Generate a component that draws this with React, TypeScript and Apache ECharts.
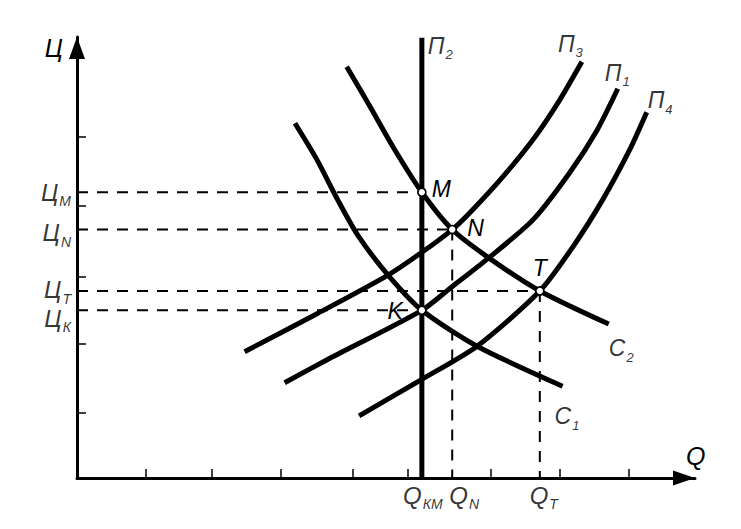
import React, { useEffect, useRef } from 'react';
import * as echarts from 'echarts';

// Demand curves (С) and supply curves (П), in axis units
const C1_CURVE = [[3.16, 5.14], [3.48, 4.61], [3.78, 4.03], [4.07, 3.52], [4.51, 2.94], [5.0, 2.43], [5.8, 1.91], [7.04, 1.33]];
const C2_CURVE = [[3.91, 5.96], [4.25, 5.38], [4.58, 4.8], [5.0, 4.14], [5.44, 3.6], [5.97, 3.19], [6.71, 2.71], [7.71, 2.23]];
const P1_CURVE = [[3.01, 1.38], [3.62, 1.71], [5.0, 2.43], [5.41, 2.75], [5.97, 3.19], [6.61, 3.74], [7.14, 4.42], [7.54, 5.04], [7.84, 5.64]];
const P2_CURVE = [[5.0, 0], [5.0, 6.38]];
const P3_CURVE = [[2.43, 1.83], [3.48, 2.38], [4.51, 2.94], [5.0, 3.27], [5.44, 3.6], [5.72, 3.87], [6.17, 4.36], [6.61, 4.9], [7.0, 5.48], [7.32, 6.03]];
const P4_CURVE = [[4.09, 0.9], [5.0, 1.43], [5.8, 1.91], [6.71, 2.71], [7.19, 3.35], [7.62, 4.03], [8.01, 4.75], [8.26, 5.3]];

// Equilibrium points
const POINT_NAMES = ['M', 'N', 'K', 'T'];
const POINTS = [[5.0, 4.14], [5.44, 3.6], [5.0, 2.43], [6.71, 2.71]];

// Price levels (Ц) and quantity levels (Q)
const PRICE_LEVELS = [4.14, 3.6, 2.71, 2.43];
const PRICE_SUBS = ['М', 'N', 'Т', 'К'];
const QTY_LEVELS = [5.0, 5.44, 6.71];
const QTY_SUBS = ['КМ', 'N', 'Т'];

// Axis tick marks
const X_TICKS = [1, 1.96, 2.96, 4, 4.8, 6, 7, 8];
const Y_TICKS = [0.95, 1.95, 2.92, 3.95, 4.95];

const X_MAX = 8.96;
const Y_MAX = 6.39;

const FONT = '"Liberation Sans", Arial, sans-serif';

const makeRich = (main: number, sub: number, drop: number): any => ({
  m: { fontSize: main, lineHeight: main + 2, verticalAlign: 'top', fontStyle: 'italic', fontFamily: FONT, color: '#000' },
  s: { fontSize: sub, lineHeight: sub, verticalAlign: 'top', padding: [drop, 0, 0, 1], fontStyle: 'italic', fontFamily: FONT, color: '#000' },
});
const AXIS_RICH = makeRich(24, 14, 14);
const CURVE_RICH = makeRich(23, 13, 14);

const CURVES = [
  { name: 'C1', main: 'C', sub: '1', data: C1_CURVE },
  { name: 'C2', main: 'C', sub: '2', data: C2_CURVE },
  { name: 'P1', main: 'П', sub: '1', data: P1_CURVE },
  { name: 'P2', main: 'П', sub: '2', data: P2_CURVE },
  { name: 'P3', main: 'П', sub: '3', data: P3_CURVE },
  { name: 'P4', main: 'П', sub: '4', data: P4_CURVE },
];

const CURVE_LABEL_OFFSET: Record<string, number[]> = {
  C1: [-8, 31],
  C2: [0, 25],
  P1: [-13, -15],
  P2: [6, 9],
  P3: [-24, -17],
  P4: [1, -11],
};

const POINT_LABEL_STYLE: Record<string, any> = {
  M: { align: 'left', offset: [10, -3] },
  N: { align: 'left', offset: [15, -2] },
  K: { align: 'right', offset: [-19, 1] },
  T: { align: 'center', offset: [0, -23] },
};

const PRICE_LABEL_OFFSET: Record<string, number[]> = { 'М': [0, 1], N: [0, 4], 'Т': [0, 0], 'К': [0, 9] };
const QTY_LABEL_OFFSET: Record<string, number[]> = { 'КМ': [1, 0], N: [12, 0], 'Т': [4, 0] };

const DASH = { color: '#000', width: 2, type: [11, 9] as any };

function buildOption() {
  const series: any[] = [];

  // dashed guide lines
  POINTS.forEach((p, i) => {
    series.push({
      type: 'line',
      data: [[0, p[1]], [p[0], p[1]]],
      showSymbol: false,
      symbol: 'none',
      lineStyle: DASH,
      silent: true,
      z: 2,
    });
    if (POINT_NAMES[i] === 'N' || POINT_NAMES[i] === 'T') {
      series.push({
        type: 'line',
        data: [[p[0], p[1]], [p[0], 0]],
        showSymbol: false,
        symbol: 'none',
        lineStyle: DASH,
        silent: true,
        z: 2,
      });
    }
  });

  // curves
  CURVES.forEach((c) => {
    series.push({
      type: 'line',
      data: c.data,
      smooth: c.data.length > 2 ? 0.25 : false,
      showSymbol: false,
      symbol: 'none',
      lineStyle: { color: '#000', width: 5 },
      silent: true,
      z: 3,
    });
  });

  // curve names at curve ends
  series.push({
    type: 'scatter',
    symbolSize: 1,
    itemStyle: { color: 'transparent' },
    silent: true,
    clip: false,
    z: 5,
    data: CURVES.map((c) => ({
      value: c.data[c.data.length - 1],
      label: {
        show: true,
        position: 'inside',
        align: 'left',
        verticalAlign: 'middle',
        offset: CURVE_LABEL_OFFSET[c.name],
        formatter: `{m|${c.main}}{s|${c.sub}}`,
        rich: CURVE_RICH,
      },
    })),
  });

  // price level labels on the Ц axis
  series.push({
    type: 'scatter',
    symbolSize: 1,
    itemStyle: { color: 'transparent' },
    silent: true,
    clip: false,
    z: 5,
    data: PRICE_LEVELS.map((p, i) => ({
      value: [0, p],
      label: {
        show: true,
        position: 'inside',
        align: 'right',
        verticalAlign: 'middle',
        offset: [-6 + PRICE_LABEL_OFFSET[PRICE_SUBS[i]][0], PRICE_LABEL_OFFSET[PRICE_SUBS[i]][1]],
        formatter: `{m|Ц}{s|${PRICE_SUBS[i]}}`,
        rich: AXIS_RICH,
      },
    })),
  });

  // quantity level labels on the Q axis
  series.push({
    type: 'scatter',
    symbolSize: 1,
    itemStyle: { color: 'transparent' },
    silent: true,
    clip: false,
    z: 5,
    data: QTY_LEVELS.map((q, i) => ({
      value: [q, 0],
      label: {
        show: true,
        position: 'inside',
        align: 'center',
        verticalAlign: 'top',
        offset: [QTY_LABEL_OFFSET[QTY_SUBS[i]][0], 5 + QTY_LABEL_OFFSET[QTY_SUBS[i]][1]],
        formatter: `{m|Q}{s|${QTY_SUBS[i]}}`,
        rich: AXIS_RICH,
      },
    })),
  });

  // equilibrium points
  series.push({
    type: 'scatter',
    symbol: 'circle',
    symbolSize: 8,
    itemStyle: { color: '#fff', borderColor: '#000', borderWidth: 1.6, opacity: 1 },
    silent: true,
    z: 10,
    data: POINTS.map((p, i) => ({
      value: p,
      label: {
        show: true,
        position: 'inside',
        verticalAlign: 'middle',
        ...POINT_LABEL_STYLE[POINT_NAMES[i]],
        formatter: POINT_NAMES[i],
        fontSize: 23,
        fontStyle: 'italic',
        fontFamily: FONT,
        color: '#000',
      },
    })),
  });

  return {
    animation: false,
    backgroundColor: '#fff',
    textStyle: { fontFamily: FONT },
    grid: { left: 77, right: 46, top: 37, bottom: 51, containLabel: false, outerBoundsMode: 'none' },
    xAxis: {
      type: 'value',
      min: 0,
      max: X_MAX,
      name: 'Q',
      nameLocation: 'end',
      nameGap: -9,
      nameTextStyle: { fontSize: 25, fontStyle: 'italic', fontFamily: FONT, color: '#000', verticalAlign: 'bottom', padding: [0, 0, 10, 0] },
      axisLine: {
        show: true,
        onZero: false,
        symbol: ['none', 'triangle'],
        symbolSize: [15, 22],
        symbolOffset: [0, -11],
        lineStyle: { color: '#000', width: 3 },
      },
      axisTick: { show: true, inside: true, length: 9, customValues: X_TICKS, lineStyle: { color: '#000', width: 1.5 } },
      axisLabel: { show: false },
      splitLine: { show: false },
    },
    yAxis: {
      type: 'value',
      min: 0,
      max: Y_MAX,
      name: 'Ц',
      nameLocation: 'end',
      nameGap: -11,
      nameTextStyle: { fontSize: 25, fontStyle: 'italic', fontFamily: FONT, color: '#000', align: 'right', verticalAlign: 'middle', padding: [0, 14, 0, 0] },
      axisLine: {
        show: true,
        onZero: false,
        symbol: ['none', 'triangle'],
        symbolSize: [16, 22],
        symbolOffset: [0, -11],
        lineStyle: { color: '#000', width: 3 },
      },
      axisTick: { show: true, inside: true, length: 9, customValues: Y_TICKS, lineStyle: { color: '#000', width: 1.5 } },
      axisLabel: { show: false },
      splitLine: { show: false },
    },
    series,
  };
}

export default function App() {
  const ref = useRef<HTMLDivElement>(null);
  useEffect(() => {
    if (!ref.current) return;
    const chart = echarts.init(ref.current, null, { renderer: 'svg' });
    chart.setOption(buildOption() as any);
    return () => chart.dispose();
  }, []);
  return (
    <div
      ref={ref}
      style={{ position: 'fixed', left: 0, top: 0, width: 741, height: 529, background: '#fff' }}
    />
  );
}
